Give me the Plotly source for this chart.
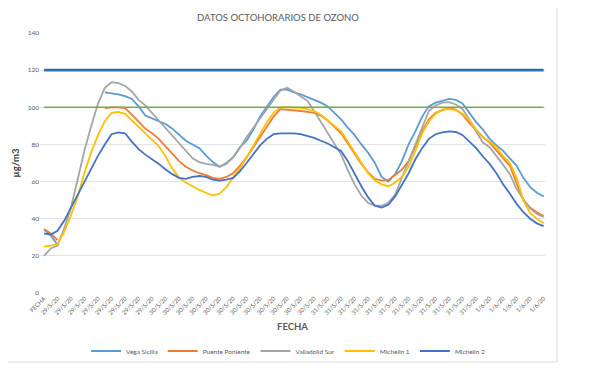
import plotly.graph_objects as go

# ---- data ----
categories = (["FECHA"] + ["29/5/20"] * 17 + ["30/5/20"] * 24
              + ["31/5/20"] * 24 + ["1/6/20"] * 9)

vega_sicilia = [34, 31, 26, None, None, None, None, None, None, 108,
                107.5, 107, 106, 104.5, 100.5, 95.5, 94, 92.5, 91, 88.5,
                85, 82, 80, 78, 74, 70.5, 68, 70, 73, 78.5,
                82, 88, 95, 100, 105.5, 109.5, 109.5, 108, 107, 105.5,
                104, 102.5, 100.5, 97, 93.5, 89, 85, 80, 75.5, 70,
                62.5, 60, 64, 71, 80, 87, 95, 100.5, 102.5, 103.5,
                104.5, 104, 102, 97, 92, 88, 83, 79.5, 76.5, 72.5,
                68.5, 62, 57, 54, 52]

puente_poniente = [34.5, 32, 28.5, None, None, None, None, None, None, 99.5,
                   100, 100, 99.5, 96, 92.5, 88.5, 86, 83, 79, 75,
                   71, 68, 66, 64.5, 63.5, 62, 61.5, 62.5, 64.5, 68.5,
                   73, 78.5, 84, 89.5, 95, 99, 98.8, 98.5, 98, 97.5,
                   97, 95.5, 93, 89.5, 86, 80.5, 75, 69.5, 65, 61.5,
                   60.5, 61, 63.5, 66.5, 71, 79, 87, 93.5, 97, 98.5,
                   99.5, 98.8, 96, 91.5, 87.5, 84, 81, 77, 73, 68.5,
                   59, 50, 46, 43.5, 41.5]

valladolid_sur = [20, 24, 25.5, 35, 46, 62, 77, 90, 102, 110.5,
                  113.5, 113, 111.5, 108.5, 104, 101, 97, 93, 89, 85,
                  81, 76.5, 72.5, 70.5, 69.5, 69, 68, 69.5, 73, 78,
                  84, 89, 94, 99, 104, 109, 110.5, 108.5, 106, 103.5,
                  98, 92, 86, 80, 74.5, 66, 58.5, 52.5, 48.5, 47,
                  47, 48.5, 53, 62, 71, 81, 90, 98, 101, 102.5,
                  102.8, 101.5, 99, 93.5, 87, 81, 78.5, 74, 69, 64,
                  56, 50.5, 45.5, 42.5, 41]

michelin_1 = [25, 25.5, 26.5, 33, 42, 52, 65, 76, 85, 92.5,
              97, 97.5, 96.5, 93, 89.5, 86, 82.5, 79, 73.5, 67,
              62, 59.5, 57.5, 55.5, 54, 52.5, 53.5, 57, 62, 67,
              73, 79.5, 86, 92, 97, 100, 100, 100, 99.7, 99,
              98, 96, 93, 89.5, 87, 81.5, 76, 70, 64.5, 60.5,
              58.5, 57.5, 59.5, 62.5, 68, 76.5, 86, 92.5, 96.5, 98.8,
              99, 98.5, 96.5, 93, 88, 84, 81.5, 78.5, 73.5, 70,
              62, 50, 43, 40, 37.5]

michelin_2 = [32, 31.5, 33.5, 39, 46, 53, 60, 67, 74, 80,
              85.5, 86.5, 86, 81.5, 77.5, 74.5, 72, 69.5, 66.5, 64,
              62, 61.5, 62.5, 63, 62.5, 61, 60.5, 61, 62, 65.5,
              70, 75, 79.5, 83, 85.5, 86, 86, 86, 85.5, 84.5,
              83.5, 82, 80.5, 78.5, 76.5, 71, 64, 57.5, 51.5, 47,
              46, 47.5, 52, 58.5, 64.5, 72, 78, 83, 85.5, 86.5,
              87, 86.7, 85, 81.5, 78, 73.5, 69.5, 64.5, 58.5, 53.5,
              48, 43.5, 40, 37.5, 36]

valor_objetivo = 120
umbral_informacion = 100
y_ticks = [0, 20, 40, 60, 80, 100, 120, 140]

# ---- figure ----
x = list(range(len(categories)))
tick_idx = x[::2]
tick_txt = [categories[i] for i in tick_idx]

series = [
    ("Vega Sicilia", vega_sicilia, "#5B9BD5"),
    ("Puente Poniente", puente_poniente, "#ED7D31"),
    ("Valladolid Sur", valladolid_sur, "#A5A5A5"),
    ("Michelin 1", michelin_1, "#FFC000"),
    ("Michelin 2", michelin_2, "#4472C4"),
]

fig = go.Figure()
for name, vals, col in series:
    fig.add_trace(go.Scatter(x=x, y=vals, mode="lines", name=name,
                             line=dict(color=col, width=1.8),
                             connectgaps=False))

fig.add_trace(go.Scatter(x=x, y=[valor_objetivo] * len(x), mode="lines",
                         line=dict(color="#2F6EAA", width=2.6),
                         showlegend=False))
fig.add_trace(go.Scatter(x=x, y=[umbral_informacion] * len(x), mode="lines",
                         line=dict(color="#70AD47", width=1.6),
                         showlegend=False))

# the page adds an 8px body margin, so the figure is 604x364 and offset by 8px
W, H = 604, 364
L, R, T, B = 32, 67, 25, 79
pw, ph = W - L - R, H - T - B

font_family = "Lato, 'Open Sans', sans-serif"
fig.update_layout(
    width=W, height=H,
    margin=dict(l=L, r=R, t=T, b=B, autoexpand=False),
    paper_bgcolor="white", plot_bgcolor="white",
    font=dict(family=font_family, color="#595959", size=7),
    title=dict(text="DATOS OCTOHORARIOS DE OZONO", x=270 / W, xanchor="center",
               y=1 - 10 / H, yanchor="middle",
               font=dict(size=9.5, color="#595959", family=font_family)),
    showlegend=True,
    legend=dict(orientation="h", x=280 / W, xanchor="center",
                xref="container", yref="container",
                y=1 - 343 / H, yanchor="middle",
                font=dict(size=6.5, color="#595959"), itemwidth=30,
                tracegroupgap=0, bgcolor="rgba(0,0,0,0)"),
    xaxis=dict(range=[-0.6, 74.2], tickmode="array", tickvals=tick_idx,
               ticktext=tick_txt, tickangle=-45, showgrid=False,
               zeroline=False, showline=False, ticks="", automargin=False,
               tickfont=dict(size=6, color="#595959"),
               title=dict(text="<b>FECHA</b>", font=dict(size=9.5, color="#595959"),
                          standoff=8)),
    yaxis=dict(range=[0, 140], tickvals=y_ticks, showgrid=True,
               gridcolor="#E3E3E3", gridwidth=1, zeroline=False, showline=False,
               ticks="", automargin=False, tickfont=dict(size=6.5, color="#595959"),
               title=dict(text="<b>µg/m3</b>", font=dict(size=9.5, color="#404040"),
                          standoff=6)),
    shapes=[
        dict(type="line", xref="paper", yref="paper",
             x0=(549 - L) / pw, x1=(549 - L) / pw,
             y0=(H - B - 354) / ph, y1=1 + T / ph,
             line=dict(color="#D9D9D9", width=1), layer="below"),
        dict(type="line", xref="paper", yref="paper",
             x0=-L / pw, x1=(549 - L) / pw,
             y0=(H - B - 354) / ph, y1=(H - B - 354) / ph,
             line=dict(color="#D9D9D9", width=1), layer="below"),
    ],
)

fig.write_html("out.html")
